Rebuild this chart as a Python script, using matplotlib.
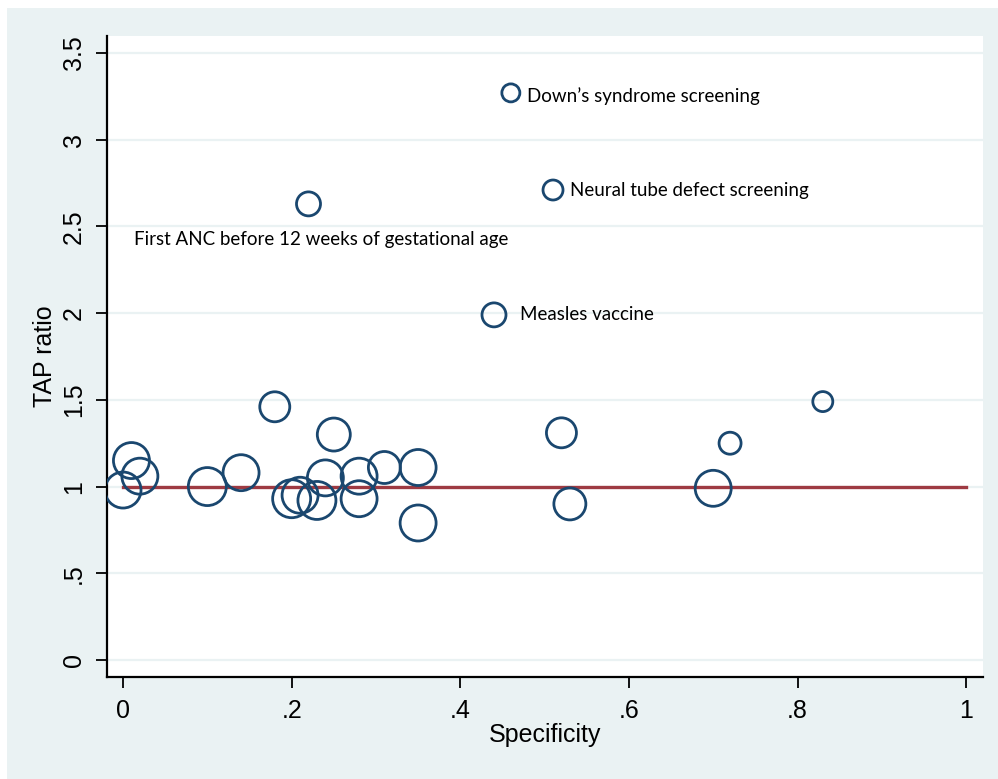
import matplotlib

matplotlib.use("Agg")
from matplotlib import pyplot as plt
from matplotlib.patches import Rectangle

# specificity, TAP ratio and circle weight (radius in px)
specificity = [0.18, 0.25, 0.01, 0.02, 0.00, 0.10, 0.14, 0.20, 0.21, 0.23,
               0.24, 0.28, 0.28, 0.31, 0.35, 0.35, 0.52, 0.53, 0.70, 0.72,
               0.83, 0.22, 0.46, 0.51, 0.44]
tap_ratio = [1.46, 1.30, 1.15, 1.06, 0.98, 1.00, 1.08, 0.93, 0.95, 0.92,
             1.05, 1.06, 0.93, 1.11, 1.11, 0.79, 1.31, 0.90, 0.99, 1.25,
             1.49, 2.63, 3.27, 2.71, 1.99]
weights = [15, 16.5, 18, 18, 18, 19, 18, 19, 18, 19,
           18, 18, 18, 16, 18, 18, 15, 16, 18, 11,
           10, 12, 9, 10, 12]

labelled = {
    21: "First ANC before 12 weeks of gestational age",
    22: "Down\u2019s syndrome screening",
    23: "Neural tube defect screening",
    24: "Measles vaccine",
}
label_offsets = {21: (-175, -36), 22: (16, -3), 23: (17, 0), 24: (26, 0)}

x_ticks = [0, 0.2, 0.4, 0.6, 0.8, 1]
x_tick_labels = ["0", ".2", ".4", ".6", ".8", "1"]
y_ticks = [0, 0.5, 1, 1.5, 2, 2.5, 3, 3.5]
y_tick_labels = ["0", ".5", "1", "1.5", "2", "2.5", "3", "3.5"]

NAVY = "#1a476f"
MAROON = "#9e3a42"
BG = "#eaf2f3"

plt.rcParams["font.family"] = ["Liberation Sans", "DejaVu Sans"]

fig = plt.figure(figsize=(9.98, 7.79), dpi=100, facecolor="white")
fig.patches.append(
    Rectangle((7 / 998, 0), 1, 1 - 8 / 779, transform=fig.transFigure,
              facecolor=BG, edgecolor="none", zorder=-10)
)
ax = fig.add_axes([107 / 998, 1 - 677 / 779, (983 - 107) / 998, (677 - 36) / 779])
ax.set_facecolor("white")

px = 0.72  # points per pixel at 100 dpi
sizes = [(2 * r * px) ** 2 for r in weights]

for y in y_ticks:
    ax.axhline(y, color=BG, lw=1.6, zorder=1)

ax.plot([0, 1], [1, 1], color=MAROON, lw=2.4, zorder=2)
ax.scatter(specificity, tap_ratio, s=sizes, facecolors="none",
           edgecolors=NAVY, linewidths=2.0, zorder=3)

for i, text in labelled.items():
    dx, dy = label_offsets[i]
    ax.annotate(text, (specificity[i], tap_ratio[i]),
                xytext=(dx * px, dy * px), textcoords="offset points",
                ha="left", va="center", fontsize=13.5, family="Lato",
                color="black", zorder=4)

ax.set_xlim(-0.019, 1.02)
ax.set_ylim(-0.098, 3.598)
ax.set_xticks(x_ticks, x_tick_labels)
ax.set_yticks(y_ticks, y_tick_labels)
ax.tick_params(axis="both", direction="out", length=8, width=1.3,
               labelsize=18)
ax.tick_params(axis="x", pad=8)
ax.tick_params(axis="y", pad=7)
for lbl in ax.get_yticklabels():
    lbl.set_rotation(90)
    lbl.set_va("center")

for side in ("top", "right"):
    ax.spines[side].set_visible(False)
for side in ("left", "bottom"):
    ax.spines[side].set_linewidth(1.6)

ax.set_xlabel("Specificity", fontsize=18, labelpad=0)
ax.set_ylabel("TAP ratio", fontsize=18, labelpad=4)

fig.savefig("out.png", dpi=100, facecolor="white")
